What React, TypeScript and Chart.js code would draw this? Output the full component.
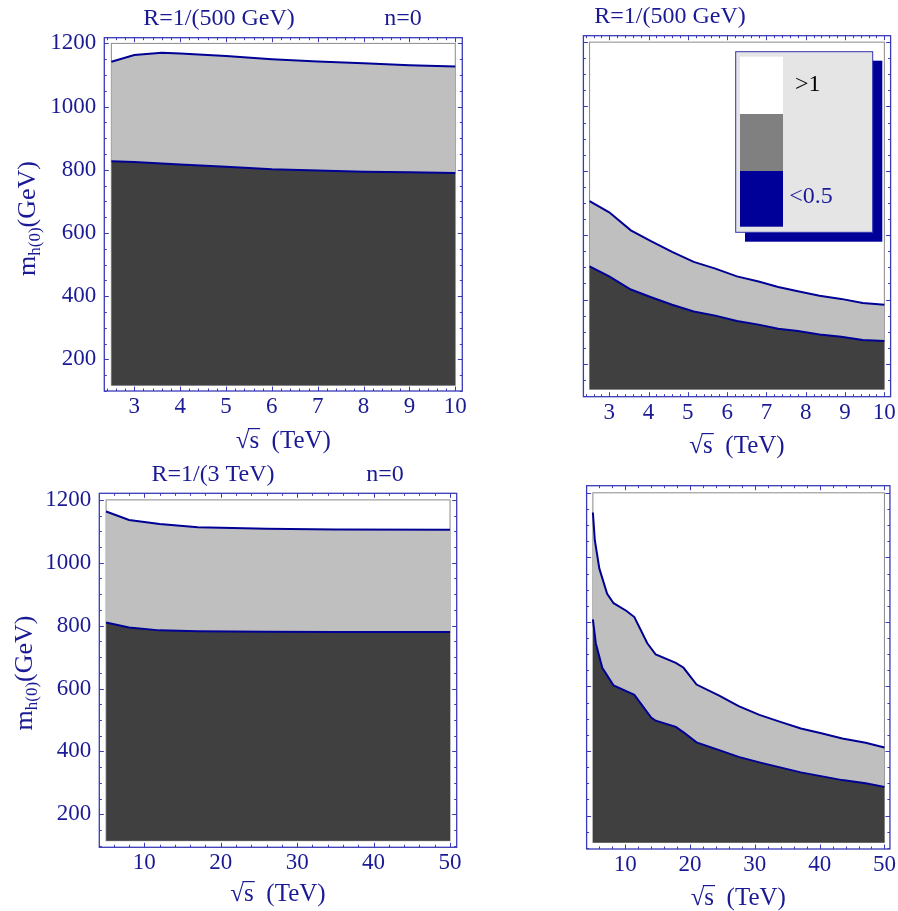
import React, { useEffect, useRef } from "react";
import { Chart, registerables } from "chart.js";
Chart.register(...registerables);

// ---------- data ----------
// Panel A: R=1/(500 GeV), n=0, sqrt(s) 2.5..10 TeV
const aX = [2.5, 3, 3.6, 4, 5, 6, 7, 8, 9, 10];
const aUpper = [1142, 1163, 1170, 1168, 1160, 1150, 1143, 1137, 1131, 1127];
const aLower = [827, 825, 820, 817, 810, 802, 798, 794, 792, 790];

// Panel B: R=1/(500 GeV), sqrt(s) 2.5..10 TeV
const bX = [2.5, 3, 3.55, 4.05, 4.6, 5.15, 5.7, 6.25, 6.8, 7.3, 7.8, 8.35, 8.9, 9.45, 10];
const bUpper = [706, 671, 615, 582, 548, 517, 496, 472, 456, 439, 426, 412, 402, 389, 384];
const bLower = [503, 472, 431, 408, 384, 363, 350, 333, 322, 309, 302, 291, 284, 274, 271];

// Panel C: R=1/(3 TeV), n=0, sqrt(s) 5..50 TeV
const cX = [5, 8, 12, 17, 26, 35, 50];
const cUpper = [1163, 1136, 1123, 1113, 1108, 1106, 1105];
const cLower = [810, 794, 785, 782, 781, 780, 780];

// Panel D: sqrt(s) 5..50 TeV
const dUpperX = [5, 5.3, 6, 7.2, 8.2, 10.2, 11.4, 13.4, 14.7, 17.8, 19, 21, 24.5, 27.5, 30.7, 33.7, 37.1, 40.1, 43.5, 47.1, 50];
const dUpper = [1139, 1053, 965, 887, 858, 834, 815, 734, 699, 673, 658, 606, 572, 539, 512, 492, 470, 456, 439, 426, 411];
const dLowerX = [5, 5.45, 6.45, 8.2, 11.4, 14, 14.7, 17.8, 19, 21, 24.5, 27.5, 30.7, 37.1, 43.5, 47.1, 50];
const dLower = [808, 734, 658, 603, 574, 504, 494, 475, 458, 427, 403, 382, 365, 334, 310, 300, 289];

// ticks
const xTicksLow = [3, 4, 5, 6, 7, 8, 9, 10];
const xTicksHigh = [10, 20, 30, 40, 50];
const yTicks = [200, 400, 600, 800, 1000, 1200];

// titles / legend
const titleA = ["R=1/(500 GeV)", "n=0"];
const titleB = ["R=1/(500 GeV)"];
const titleC = ["R=1/(3 TeV)", "n=0"];
const legendLabels = [">1", "", "<0.5"];
const legendColors = ["#ffffff", "#808080", "#000099"];
const legendTextColors = ["#000000", "#000000", "#1a1a99"];

// ---------- styles ----------
const FONT = '"Liberation Serif", "Times New Roman", serif';
const NAVY = "#000094";
const FRAME = "#3a3ab8";
const TEXT = "#1a1a94";
const DARK = "#404040";
const LIGHT = "#bfbfbf";

type Title = { text: string; x: number; y: number };
type PanelCfg = {
  left: number; top: number; w: number; h: number;
  frame: { l: number; t: number; r: number; b: number };
  xRange: [number, number]; yRange: [number, number];
  xTicks: number[]; xMajor: number; xMinor: number;
  showY: boolean;
  upperX: number[]; upper: number[]; lowerX: number[]; lower: number[];
  dataX: [number, number]; floor: number; ceil: number;
  titles: Title[];
  xTitleY: number;
  yTitle?: { x: number; y: number };
  legend?: boolean;
};

const PANELS: PanelCfg[] = [
  {
    left: 0, top: 0, w: 470, h: 460,
    frame: { l: 104.3, t: 37.7, r: 462.3, b: 391 },
    xRange: [2.346, 10.153], yRange: [100, 1218],
    xTicks: xTicksLow, xMajor: 1, xMinor: 0.2, showY: true,
    upperX: aX, upper: aUpper, lowerX: aX, lower: aLower,
    dataX: [2.5, 10], floor: 118, ceil: 1200,
    titles: [{ text: titleA[0], x: 219, y: 19 }, { text: titleA[1], x: 403, y: 19 }],
    xTitleY: 440, yTitle: { x: 27.5, y: 218.5 },
  },
  {
    left: 470, top: 0, w: 428, h: 460,
    frame: { l: 56.7, t: 35.7, r: 420.7, b: 396.7 },
    xRange: [2.343, 10.159], yRange: [98, 1220],
    xTicks: xTicksLow, xMajor: 1, xMinor: 0.2, showY: false,
    upperX: bX, upper: bUpper, lowerX: bX, lower: bLower,
    dataX: [2.5, 10], floor: 121, ceil: 1200,
    titles: [{ text: titleB[0], x: 200, y: 17 }],
    xTitleY: 445, legend: true,
  },
  {
    left: 0, top: 460, w: 470, h: 451,
    frame: { l: 99.3, t: 33.3, r: 456.7, b: 387.3 },
    xRange: [4.11, 50.87], yRange: [95, 1221],
    xTicks: xTicksHigh, xMajor: 10, xMinor: 2, showY: true,
    upperX: cX, upper: cUpper, lowerX: cX, lower: cLower,
    dataX: [5, 50], floor: 116, ceil: 1200,
    titles: [{ text: titleC[0], x: 213, y: 15 }, { text: titleC[1], x: 385, y: 15 }],
    xTitleY: 433, yTitle: { x: 25, y: 213 },
  },
  {
    left: 470, top: 460, w: 428, h: 451,
    frame: { l: 58.3, t: 25.7, r: 424.3, b: 389 },
    xRange: [4.03, 50.85], yRange: [96.6, 1222],
    xTicks: xTicksHigh, xMajor: 10, xMinor: 2, showY: false,
    upperX: dUpperX, upper: dUpper, lowerX: dLowerX, lower: dLower,
    dataX: [5, 50], floor: 117, ceil: 1200,
    titles: [],
    xTitleY: 437,
  },
];

function pts(xs: number[], ys: number[]) {
  return xs.map((x, i) => ({ x, y: ys[i] }));
}

function drawXTitle(ctx: CanvasRenderingContext2D, cx: number, cy: number) {
  ctx.save();
  ctx.font = `25px ${FONT}`;
  ctx.fillStyle = TEXT;
  ctx.strokeStyle = TEXT;
  ctx.textBaseline = "alphabetic";
  ctx.textAlign = "left";
  const w1 = ctx.measureText("\u221A").width;
  const w2 = ctx.measureText("s").width;
  const rest = "  (TeV)";
  const w3 = ctx.measureText(rest).width;
  const total = w1 + w2 + w3;
  const base = cy + 8;
  const x0 = cx - total / 2;
  ctx.fillText("\u221A", x0, base);
  const m = ctx.measureText("\u221A");
  const topY = base - m.actualBoundingBoxAscent;
  ctx.fillText("s", x0 + w1, base);
  ctx.lineWidth = 1.2;
  ctx.beginPath();
  ctx.moveTo(x0 + w1 - 1.5, topY + 0.6);
  ctx.lineTo(x0 + w1 + w2 + 1, topY + 0.6);
  ctx.stroke();
  ctx.fillText(rest, x0 + w1 + w2, base);
  ctx.restore();
}

function drawYTitle(ctx: CanvasRenderingContext2D, cx: number, cy: number) {
  ctx.save();
  ctx.translate(cx, cy);
  ctx.rotate(-Math.PI / 2);
  ctx.fillStyle = TEXT;
  ctx.textBaseline = "alphabetic";
  ctx.textAlign = "left";
  const big = `26px ${FONT}`;
  const small = `17px ${FONT}`;
  ctx.font = big;
  const wm = ctx.measureText("m").width;
  const wg = ctx.measureText("(GeV)").width;
  ctx.font = small;
  const ws = ctx.measureText("h(0)").width;
  const total = wm + ws + wg;
  let x = -total / 2;
  const base = 7;
  ctx.font = big;
  ctx.fillText("m", x, base);
  x += wm;
  ctx.font = small;
  ctx.fillText("h(0)", x, base + 5);
  x += ws;
  ctx.font = big;
  ctx.fillText("(GeV)", x, base);
  ctx.restore();
}

function Panel({ cfg }: { cfg: PanelCfg }) {
  const ref = useRef<HTMLCanvasElement>(null);
  useEffect(() => {
    const canvas = ref.current!;
    const decor = {
      id: "decor",
      beforeDraw(chart: any) {
        const { ctx, scales } = chart;
        const x = scales.x, y = scales.y;
        ctx.save();
        ctx.strokeStyle = "#8a8a8a";
        ctx.lineWidth = 1;
        const l = x.getPixelForValue(cfg.dataX[0]);
        const r = x.getPixelForValue(cfg.dataX[1]);
        const t = y.getPixelForValue(cfg.ceil);
        const b = y.getPixelForValue(cfg.floor);
        ctx.strokeRect(l, t, r - l, b - t);
        ctx.restore();
      },
      afterDraw(chart: any) {
        const { ctx, chartArea: a, scales } = chart;
        const x = scales.x, y = scales.y;
        ctx.save();
        // frame
        ctx.strokeStyle = FRAME;
        ctx.lineWidth = 1.3;
        ctx.strokeRect(a.left, a.top, a.right - a.left, a.bottom - a.top);
        // ticks
        ctx.lineWidth = 1;
        const majL = 4.5, minL = 2.5;
        const k0 = Math.ceil(x.min / cfg.xMinor - 1e-9);
        for (let k = k0; k * cfg.xMinor <= x.max + 1e-9; k++) {
          const v = k * cfg.xMinor;
          const ratio = v / cfg.xMajor;
          const major = Math.abs(ratio - Math.round(ratio)) < 1e-6;
          const L = major ? majL : minL;
          const px = Math.round(x.getPixelForValue(v)) + 0.5;
          ctx.beginPath();
          ctx.moveTo(px, a.bottom);
          ctx.lineTo(px, a.bottom - L);
          ctx.moveTo(px, a.top);
          ctx.lineTo(px, a.top + L);
          ctx.stroke();
        }
        const yMinor = 50, yMajor = 200;
        const j0 = Math.ceil(y.min / yMinor - 1e-9);
        for (let j = j0; j * yMinor <= y.max + 1e-9; j++) {
          const v = j * yMinor;
          const major = v % yMajor === 0;
          const L = major ? majL : minL;
          const py = Math.round(y.getPixelForValue(v)) + 0.5;
          ctx.beginPath();
          ctx.moveTo(a.left, py);
          ctx.lineTo(a.left + L, py);
          ctx.moveTo(a.right, py);
          ctx.lineTo(a.right - L, py);
          ctx.stroke();
        }
        // titles
        ctx.font = `24px ${FONT}`;
        ctx.fillStyle = TEXT;
        ctx.textAlign = "center";
        ctx.textBaseline = "middle";
        for (const t of cfg.titles) ctx.fillText(t.text, t.x, t.y);
        ctx.restore();
        drawXTitle(ctx, (a.left + a.right) / 2, cfg.xTitleY);
        if (cfg.yTitle) drawYTitle(ctx, cfg.yTitle.x, cfg.yTitle.y);
        if (cfg.legend) {
          ctx.save();
          // shadow
          ctx.fillStyle = "#000099";
          ctx.fillRect(275, 60.7, 137.3, 181);
          // box
          ctx.fillStyle = "#e5e5e5";
          ctx.fillRect(265.7, 51.7, 137, 180.6);
          ctx.strokeStyle = "#3434b0";
          ctx.lineWidth = 1;
          ctx.strokeRect(265.7, 51.7, 137, 180.6);
          const sy = [56.7, 114, 171];
          const sh = [57.3, 57, 55.7];
          for (let i = 0; i < legendColors.length; i++) {
            ctx.fillStyle = legendColors[i];
            ctx.fillRect(270, sy[i], 43, sh[i]);
          }
          ctx.font = `24px ${FONT}`;
          ctx.textAlign = "left";
          ctx.textBaseline = "middle";
          ctx.fillStyle = legendTextColors[0];
          ctx.fillText(legendLabels[0], 325, 84.3);
          ctx.fillStyle = legendTextColors[2];
          ctx.fillText(legendLabels[2], 319.3, 196.7);
          ctx.restore();
        }
      },
    };

    const tickFont = { family: FONT, size: 23 };
    const chart = new Chart(canvas, {
      type: "line",
      data: {
        datasets: [
          {
            data: pts(cfg.upperX, cfg.upper),
            borderColor: NAVY,
            borderWidth: 2,
            backgroundColor: LIGHT,
            fill: 1,
            pointRadius: 0,
            tension: 0,
          },
          {
            data: pts(cfg.lowerX, cfg.lower),
            borderColor: NAVY,
            borderWidth: 2,
            backgroundColor: DARK,
            fill: { value: cfg.floor },
            pointRadius: 0,
            tension: 0,
          },
        ],
      },
      options: {
        responsive: false,
        animation: false,
        events: [],
        layout: {
          autoPadding: false,
          padding: {
            left: cfg.showY ? 0 : cfg.frame.l,
            top: cfg.frame.t,
            right: cfg.w - cfg.frame.r,
            bottom: 0,
          },
        },
        plugins: {
          legend: { display: false },
          tooltip: { enabled: false },
          title: { display: false },
          filler: { drawTime: "beforeDatasetsDraw" },
        },
        scales: {
          x: {
            type: "linear",
            position: "bottom",
            min: cfg.xRange[0],
            max: cfg.xRange[1],
            grid: { display: false, drawTicks: false },
            border: { display: false },
            ticks: {
              font: tickFont,
              color: TEXT,
              padding: 2,
              maxRotation: 0,
              autoSkip: false,
              callback: (v: any) => String(v),
            },
            afterBuildTicks: (s: any) => {
              s.ticks = cfg.xTicks.map((v) => ({ value: v }));
            },
            afterFit: (s: any) => {
              s.height = cfg.h - cfg.frame.b;
            },
          },
          y: {
            type: "linear",
            position: "left",
            display: cfg.showY,
            min: cfg.yRange[0],
            max: cfg.yRange[1],
            grid: { display: false, drawTicks: false },
            border: { display: false },
            ticks: {
              font: tickFont,
              color: TEXT,
              padding: 8,
              autoSkip: false,
              callback: (v: any) => String(v),
            },
            afterBuildTicks: (s: any) => {
              s.ticks = yTicks.map((v) => ({ value: v }));
            },
            afterFit: (s: any) => {
              s.width = cfg.frame.l;
            },
          },
        },
      } as any,
      plugins: [decor],
    });
    return () => chart.destroy();
  }, []);
  return (
    <canvas
      ref={ref}
      width={cfg.w}
      height={cfg.h}
      style={{ position: "absolute", left: cfg.left, top: cfg.top, width: cfg.w, height: cfg.h }}
    />
  );
}

export default function App() {
  return (
    <div style={{ position: "absolute", left: 0, top: 0, width: 898, height: 911, background: "#ffffff" }}>
      {PANELS.map((p, i) => (
        <Panel key={i} cfg={p} />
      ))}
    </div>
  );
}
